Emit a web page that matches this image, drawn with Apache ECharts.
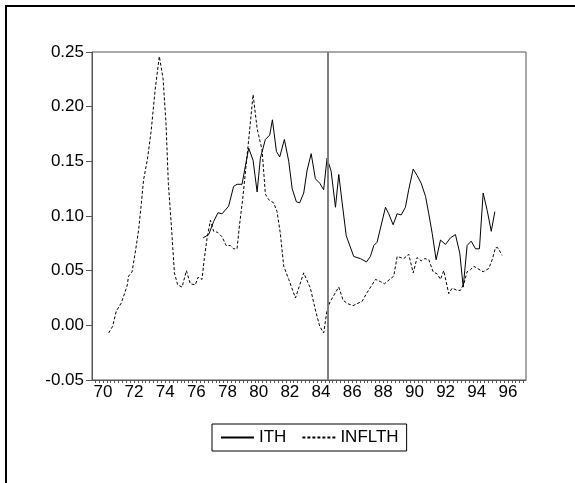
<!DOCTYPE html>
<html>
<head>
<meta charset="utf-8">
<script src="https://cdn.jsdelivr.net/npm/echarts@6/dist/echarts.min.js"></script>
<style>
  html, body { margin: 0; padding: 0; background: #fff; }
  #chart { width: 575px; height: 483px; }
</style>
</head>
<body>
<div id="chart"></div>
<script>
// Quarterly observations, x in years (70 = 1970), y as rates
const ithYears = [76.43, 76.79, 77.11, 77.39, 77.65, 78.07, 78.39, 78.61, 78.93, 79.36, 79.64, 79.90,
  80.11, 80.43, 80.71, 80.88, 81.14, 81.35, 81.65, 81.93, 82.15, 82.42, 82.63, 82.89, 83.11, 83.37,
  83.64, 83.92, 84.17, 84.39, 84.65, 84.93, 85.14, 85.36, 85.62, 86.10, 86.53, 86.92, 87.17, 87.39,
  87.60, 88.14, 88.35, 88.63, 88.89, 89.15, 89.42, 89.63, 89.92, 90.17, 90.43, 90.71, 90.92, 91.14,
  91.39, 91.67, 91.99, 92.31, 92.63, 92.91, 93.13, 93.38, 93.64, 93.92, 94.17, 94.41, 94.67, 94.93, 95.16];
const ithValues = [0.080, 0.083, 0.095, 0.103, 0.102, 0.109, 0.127, 0.129, 0.129, 0.162, 0.151, 0.122,
  0.153, 0.170, 0.174, 0.188, 0.159, 0.154, 0.170, 0.150, 0.125, 0.113, 0.112, 0.121, 0.142, 0.157,
  0.134, 0.130, 0.124, 0.153, 0.141, 0.108, 0.138, 0.112, 0.082, 0.063, 0.061, 0.058, 0.063, 0.073,
  0.076, 0.108, 0.102, 0.092, 0.102, 0.101, 0.108, 0.124, 0.143, 0.137, 0.130, 0.118, 0.102, 0.084,
  0.060, 0.078, 0.074, 0.080, 0.083, 0.066, 0.035, 0.073, 0.077, 0.070, 0.070, 0.121, 0.105, 0.086, 0.104];

const inflthYears = [70.37, 70.62, 70.86, 71.16, 71.39, 71.55, 71.65, 71.87, 72.08, 72.29, 72.47, 72.61,
  72.86, 73.10, 73.35, 73.62, 73.86, 74.05, 74.20, 74.40, 74.59, 74.80, 75.08, 75.36, 75.61, 75.93,
  76.11, 76.36, 76.51, 76.69, 76.90, 77.11, 77.37, 77.65, 77.91, 78.18, 78.39, 78.61, 78.78, 78.97,
  79.36, 79.64, 79.90, 80.22, 80.43, 80.64, 80.96, 81.18, 81.39, 81.61, 81.93, 82.36, 82.89, 83.32,
  83.64, 83.92, 84.17, 84.39, 84.60, 85.14, 85.42, 85.68, 86.06, 86.64, 86.96, 87.50, 87.82, 88.07,
  88.41, 88.67, 88.89, 89.31, 89.63, 89.92, 90.17, 90.43, 90.66, 90.92, 91.20, 91.46, 91.67, 91.88,
  92.20, 92.42, 92.74, 92.95, 93.17, 93.38, 93.60, 93.81, 94.41, 94.77, 94.99, 95.20, 95.35, 95.63];
const inflthValues = [-0.007, -0.001, 0.013, 0.020, 0.029, 0.036, 0.045, 0.049, 0.067, 0.087, 0.112, 0.133,
  0.152, 0.178, 0.215, 0.246, 0.226, 0.185, 0.130, 0.090, 0.048, 0.037, 0.035, 0.050, 0.038, 0.037,
  0.044, 0.042, 0.061, 0.080, 0.096, 0.086, 0.085, 0.081, 0.073, 0.073, 0.070, 0.070, 0.093, 0.115,
  0.170, 0.211, 0.180, 0.160, 0.120, 0.115, 0.112, 0.104, 0.084, 0.054, 0.042, 0.025, 0.048, 0.034,
  0.014, -0.001, -0.007, 0.014, 0.022, 0.035, 0.023, 0.020, 0.018, 0.022, 0.030, 0.042, 0.040, 0.038,
  0.042, 0.045, 0.063, 0.061, 0.065, 0.048, 0.062, 0.059, 0.061, 0.060, 0.049, 0.047, 0.042, 0.050,
  0.029, 0.034, 0.032, 0.032, 0.038, 0.049, 0.051, 0.054, 0.049, 0.052, 0.060, 0.071, 0.071, 0.064];

const yearLabels = [70, 72, 74, 76, 78, 80, 82, 84, 86, 88, 90, 92, 94, 96];
const breakYear = 84.42;

const quarterTicks = [];
for (let t = 69.5; t <= 97.01; t += 0.25) quarterTicks.push(+t.toFixed(2));

const pairs = (xs, ys) => xs.map((x, i) => [x, ys[i]]);
const FONT = '"Liberation Sans", Arial, sans-serif';

const chart = echarts.init(document.getElementById('chart'), null, { renderer: 'canvas' });
chart.setOption({
  animation: false,
  backgroundColor: '#fff',
  graphic: [{
    type: 'rect',
    shape: { x: 6, y: 6, width: 800, height: 800 },
    style: { fill: 'none', stroke: '#000', lineWidth: 2 },
    silent: true
  }],
  grid: {
    left: 92, top: 52, width: 434, height: 328,
    show: true, borderColor: '#555', borderWidth: 1, backgroundColor: 'transparent'
  },
  legend: {
    left: 212, top: 424,
    padding: [5, 8],
    itemGap: 15,
    itemWidth: 33,
    itemHeight: 14,
    borderColor: '#000',
    borderWidth: 1,
    itemStyle: { opacity: 0 },
    textStyle: { fontSize: 17, color: '#000', fontFamily: FONT },
    data: ['ITH', 'INFLTH']
  },
  xAxis: {
    type: 'value',
    min: 69.3,
    max: 97.16,
    splitLine: { show: false },
    axisLine: { onZero: false, lineStyle: { color: '#555', width: 1 } },
    axisTick: { customValues: quarterTicks, length: 3, inside: false, lineStyle: { color: '#555' } },
    axisLabel: {
      customValues: yearLabels,
      formatter: v => String(v),
      fontSize: 17, color: '#000', fontFamily: FONT, margin: 4
    }
  },
  yAxis: {
    type: 'value',
    min: -0.05,
    max: 0.25,
    interval: 0.05,
    splitLine: { show: false },
    axisLine: { show: true, onZero: false, lineStyle: { color: '#555', width: 1 } },
    axisTick: { show: true, length: 6, lineStyle: { color: '#555' } },
    axisLabel: {
      formatter: v => v.toFixed(2),
      fontSize: 17, color: '#000', fontFamily: FONT, margin: 8
    }
  },
  series: [
    {
      name: 'ITH',
      type: 'line',
      data: pairs(ithYears, ithValues),
      symbol: 'none',
      lineStyle: { color: '#000', width: 1 },
      itemStyle: { color: '#000' },
      markLine: {
        silent: true,
        symbol: ['none', 'none'],
        label: { show: false },
        lineStyle: { color: '#808080', width: 2, type: 'solid' },
        data: [{ xAxis: breakYear }]
      }
    },
    {
      name: 'INFLTH',
      type: 'line',
      data: pairs(inflthYears, inflthValues),
      symbol: 'none',
      lineStyle: { color: '#000', width: 1, type: [3, 2] },
      itemStyle: { color: '#000' }
    }
  ]
});
</script>
</body>
</html>
